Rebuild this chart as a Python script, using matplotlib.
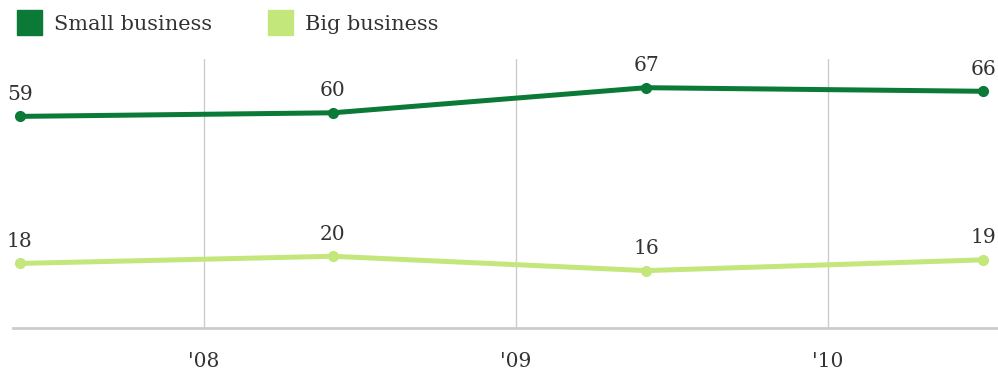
import matplotlib
matplotlib.use("Agg")
import matplotlib.pyplot as plt
from matplotlib.lines import Line2D

# survey dates as fractional years
dates = [2007.41, 2008.413, 2009.417, 2010.497]
small_business = [59, 60, 67, 66]
big_business = [18, 20, 16, 19]
series_names = ["Small business", "Big business"]
year_ticks = [2008, 2009, 2010]
year_labels = ["'08", "'09", "'10"]

dark_green = "#0b7a36"
light_green = "#c4e77b"
text_color = "#333333"
font = ["DejaVu Serif"]

fig = plt.figure(figsize=(9.98, 3.79), dpi=100)
ax = fig.add_axes([13 / 998, 51 / 379, 985 / 998, 269 / 379])

for values, color in [(small_business, dark_green), (big_business, light_green)]:
    ax.plot(dates, values, color=color, lw=3.6, marker="o", markersize=7,
            solid_capstyle="round", zorder=3)
    for x, v in zip(dates, values):
        ax.annotate(str(v), (x, v), xytext=(0, 9), textcoords="offset points",
                    ha="center", va="bottom", fontsize=14.5, family=font,
                    color=text_color)

ax.set_xlim(2007.388, 2010.545)
ax.set_ylim(0, 75)
ax.set_xticks(year_ticks)
ax.set_xticklabels(year_labels, family=font, fontsize=14.5, color=text_color)
ax.tick_params(axis="x", length=0, pad=17)
ax.set_yticks([])
ax.grid(axis="x", color="#cccccc", lw=1)
for side in ["top", "right", "left"]:
    ax.spines[side].set_visible(False)
ax.spines["bottom"].set_color("#cccccc")
ax.spines["bottom"].set_linewidth(2)

handles = [Line2D([], [], ls="", marker="s", markersize=18, color=c)
           for c in (dark_green, light_green)]
fig.legend(handles, series_names, loc="upper left", bbox_to_anchor=(-0.004, 0.994),
           ncol=2, frameon=False, prop={"family": font, "size": 15},
           handletextpad=0.2, columnspacing=2.25, borderaxespad=0.2,
           labelcolor=text_color)

fig.savefig("out.png", dpi=100)
